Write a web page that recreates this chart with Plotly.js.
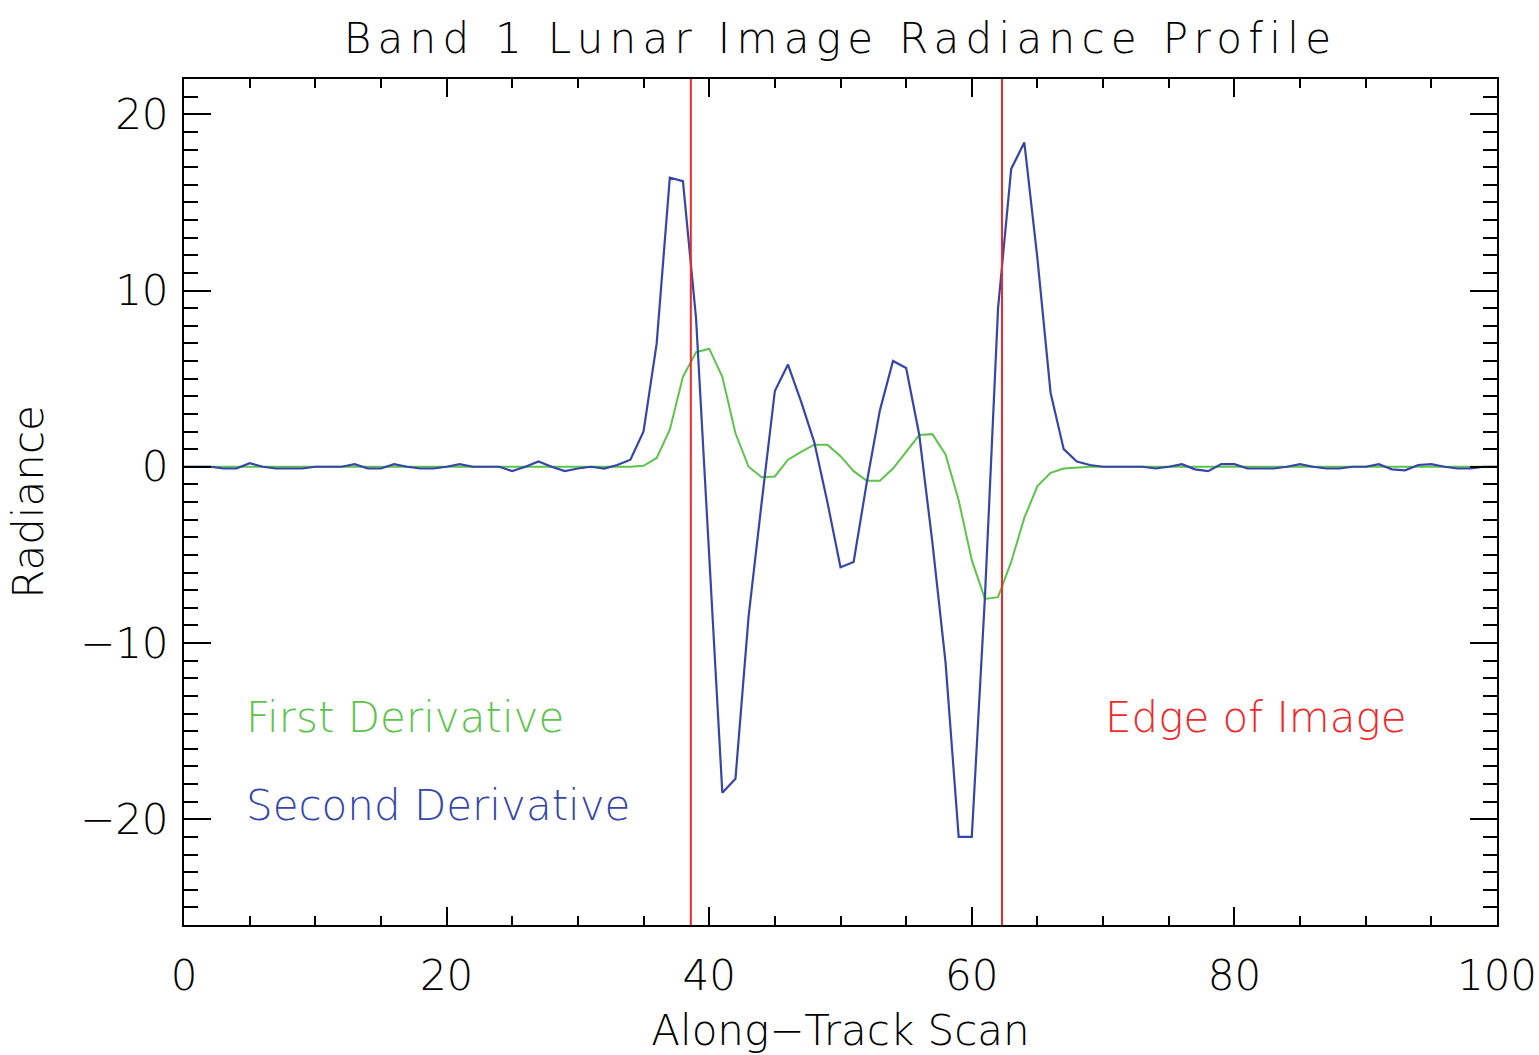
<!DOCTYPE html>
<html>
<head>
<meta charset="utf-8">
<script src="https://cdn.plot.ly/plotly-3.0.1.min.js"></script>
<style>
  html, body { margin: 0; padding: 0; background: #ffffff; }
  #chart { width: 1539px; height: 1055px; }
  /* wide tracking for the chart heading */
  #chart .gtitle { letter-spacing: 6.3px; }
</style>
</head>
<body>
<div id="chart"></div>
<script>
// Along-track scan positions (one sample per scan)
const scan = [];
for (let i = 0; i <= 100; i++) scan.push(i);

// First derivative of the radiance profile
const firstDerivative = [
  0, 0, 0, 0, 0, 0, 0, 0, 0, 0,
  0, 0, 0, 0, 0, 0, 0, 0, 0, 0,
  0, 0, 0, 0, 0, 0, 0, 0, 0, 0,
  0, 0, 0, 0, 0, 0.05, 0.5, 2.1, 5.1, 6.5,
  6.7, 5.1, 1.9, 0.0, -0.6, -0.55, 0.4, 0.85, 1.25, 1.25,
  0.6, -0.25, -0.8, -0.8, -0.1, 0.85, 1.8, 1.85, 0.7, -1.9,
  -5.3, -7.5, -7.4, -5.4, -2.9, -1.1, -0.35, -0.1, -0.03, 0,
  0, 0, 0, 0, 0, 0, 0, 0, 0, 0,
  0, 0, 0, 0, 0, 0, 0, 0, 0, 0,
  0, 0, 0, 0, 0, 0, 0, 0, 0, 0,
  0
];

// Second derivative of the radiance profile
const secondDerivative = [
  0, 0, 0, -0.1, -0.1, 0.2, 0, -0.1, -0.1, -0.1,
  0, 0, 0, 0.15, -0.1, -0.1, 0.15, 0, -0.1, -0.1,
  0, 0.15, 0, 0, 0, -0.25, 0, 0.3, 0, -0.25,
  -0.1, 0, -0.1, 0.1, 0.4, 2.0, 7.0, 16.4, 16.2, 8.4,
  -5.2, -18.5, -17.7, -8.5, -2.0, 4.3, 5.8, 3.7, 1.4, -2.0,
  -5.7, -5.4, -0.9, 3.2, 6.0, 5.6, 1.8, -4.3, -11.1, -21.0,
  -21.0, -7.4, 9.0, 16.9, 18.4, 11.8, 4.2, 1.0, 0.3, 0.1,
  0, 0, 0, 0, -0.1, 0, 0.15, -0.15, -0.25, 0.15,
  0.15, -0.1, -0.1, -0.1, 0, 0.15, 0, -0.1, -0.1, 0,
  0, 0.15, -0.15, -0.2, 0.1, 0.15, 0, -0.1, -0.1, 0,
  0
];

// Detected image edges (scan positions)
const edges = [38.6, 62.3];

const yRange = [-26, 22];
const xRange = [0, 100];

const GREEN = '#5cc44a';
const BLUE = '#3546a8';
const RED = '#f0282a';
const FONT = 'DejaVu Sans, Liberation Sans, sans-serif';
const FS = 42;

const traces = [
  {
    x: scan, y: firstDerivative, type: 'scatter', mode: 'lines',
    line: { color: GREEN, width: 2 }, hoverinfo: 'skip'
  },
  {
    x: scan, y: secondDerivative, type: 'scatter', mode: 'lines',
    line: { color: BLUE, width: 2.2 }, hoverinfo: 'skip'
  }
];

// Vertical edge markers
edges.forEach(e => {
  traces.push({
    x: [e, e], y: yRange, type: 'scatter', mode: 'lines',
    line: { color: RED, width: 2 }, hoverinfo: 'skip'
  });
});

const axisCommon = {
  showline: true, linecolor: '#000', linewidth: 2, mirror: 'ticks',
  ticks: 'inside', tickcolor: '#000', tickwidth: 2,
  showgrid: false, zeroline: false,
  tickfont: { family: FONT, size: FS, color: '#000', weight: 200 }
};

const layout = {
  width: 1539, height: 1055,
  paper_bgcolor: '#fff', plot_bgcolor: '#fff',
  showlegend: false,
  margin: { l: 184, r: 42, t: 79, b: 130 },
  font: { family: FONT, size: FS, color: '#000', weight: 200 },
  title: {
    text: 'Band 1 Lunar Image Radiance Profile',
    font: { family: FONT, size: FS, color: '#000', weight: 200 },
    x: 0.5, xref: 'paper', y: 1 - 38 / 1055, yref: 'container', yanchor: 'middle'
  },
  xaxis: Object.assign({}, axisCommon, {
    range: xRange, tick0: 0, dtick: 20, ticklen: 18,
    minor: { dtick: 5, ticklen: 9, ticks: 'inside', tickcolor: '#000', tickwidth: 2 },
    ticklabelstandoff: 13,
    title: { text: 'Along\u2212Track Scan', standoff: 33,
             font: { family: FONT, size: FS, color: '#000', weight: 200 } }
  }),
  yaxis: Object.assign({}, axisCommon, {
    range: yRange, tick0: 0, dtick: 10, ticklen: 27,
    minor: { dtick: 1, ticklen: 14, ticks: 'inside', tickcolor: '#000', tickwidth: 2 },
    ticklabelstandoff: 5,
    title: { text: 'Radiance', standoff: 23,
             font: { family: FONT, size: FS, color: '#000', weight: 200 } }
  }),
  annotations: [
    { text: 'First Derivative', x: 4.6, y: -14.2, xref: 'x', yref: 'y',
      xanchor: 'left', yanchor: 'middle', showarrow: false,
      font: { family: FONT, size: FS, color: GREEN, weight: 200 } },
    { text: 'Second Derivative', x: 4.6, y: -19.2, xref: 'x', yref: 'y',
      xanchor: 'left', yanchor: 'middle', showarrow: false,
      font: { family: FONT, size: FS, color: BLUE, weight: 200 } },
    { text: 'Edge of Image', x: 70.0, y: -14.2, xref: 'x', yref: 'y',
      xanchor: 'left', yanchor: 'middle', showarrow: false,
      font: { family: FONT, size: FS, color: RED, weight: 200 } }
  ]
};

Plotly.newPlot('chart', traces, layout, { displayModeBar: false, staticPlot: true });
</script>
</body>
</html>
